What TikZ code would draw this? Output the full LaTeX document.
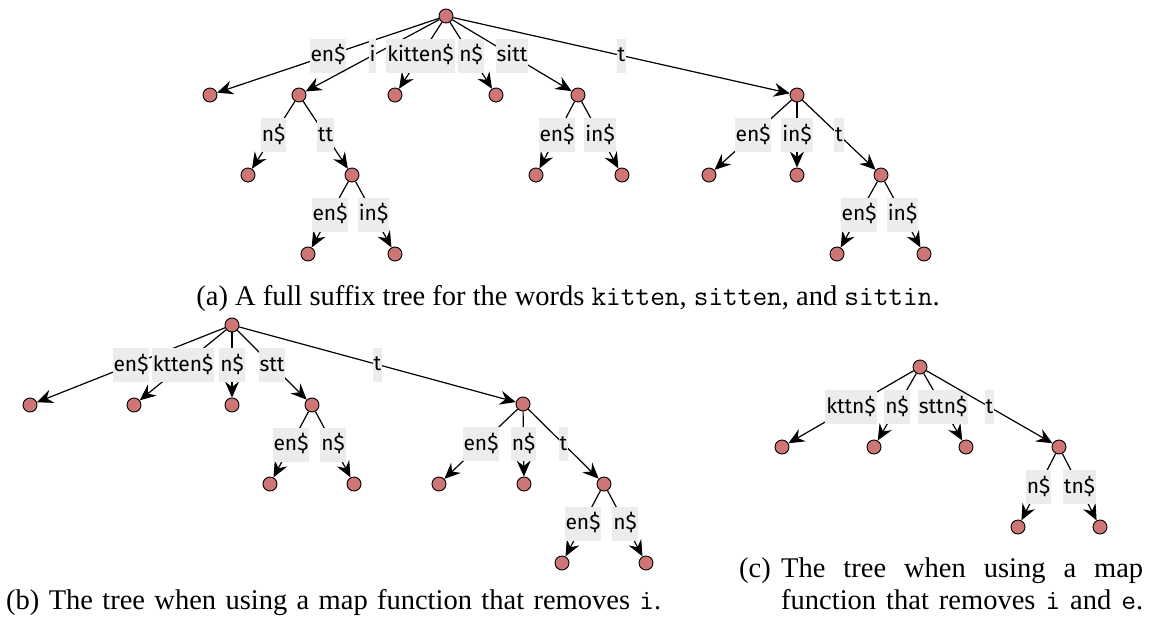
\documentclass[tikz,border=0pt]{standalone}
\usepackage{fontspec}
\setmainfont{Liberation Serif}
\newfontfamily\lblfont{Fira Sans}
\usetikzlibrary{arrows.meta}
\definecolor{vtxfill}{RGB}{206,118,118}
\definecolor{lblfill}{RGB}{236,236,236}
\tikzset{
  vtx/.style={circle, draw=black, line width=0.9pt, fill=vtxfill, minimum size=14pt, inner sep=0pt},
  lbl/.style={midway, fill=lblfill, inner xsep=1pt, inner ysep=0pt, minimum height=34pt,
              font=\lblfont\fontsize{21}{24}\selectfont, text height=15pt, text depth=3pt},
  edge/.style={line width=1.2pt, -{Stealth[length=16pt, width=14pt, inset=5.5pt]}},
  capt/.style={inner sep=0pt, font=\fontsize{28.5}{32}\selectfont}
}
\begin{document}
\begin{tikzpicture}[x=1pt, y=-1pt]
\useasboundingbox (0,0) rectangle (1149,624);

% ---- (a) full suffix tree ----
\node[vtx] (a)     at (446,16)  {};
\node[vtx] (a1)    at (210,95)  {};
\node[vtx] (ai)    at (299,95)  {};
\node[vtx] (ak)    at (395,95)  {};
\node[vtx] (an)    at (496,95)  {};
\node[vtx] (as)    at (578,95)  {};
\node[vtx] (at)    at (797,95)  {};
\node[vtx] (ain)   at (248,175) {};
\node[vtx] (aitt)  at (352,175) {};
\node[vtx] (aitte) at (308,254) {};
\node[vtx] (aitti) at (395,254) {};
\node[vtx] (ase)   at (536,175) {};
\node[vtx] (asi)   at (622,175) {};
\node[vtx] (ate)   at (709,175) {};
\node[vtx] (ati)   at (797,175) {};
\node[vtx] (att)   at (881,175) {};
\node[vtx] (atte)  at (837,254) {};
\node[vtx] (atti)  at (924,254) {};

\draw[edge] (a) -- node[lbl] {en\$} (a1);
\draw[edge] (a) -- node[lbl] {i} (ai);
\draw[edge] (a) -- node[lbl] {kitten\$} (ak);
\draw[edge] (a) -- node[lbl] {n\$} (an);
\draw[edge] (a) -- node[lbl] {sitt} (as);
\draw[edge] (a) -- node[lbl] {t} (at);
\draw[edge] (ai) -- node[lbl] {n\$} (ain);
\draw[edge] (ai) -- node[lbl] {tt} (aitt);
\draw[edge] (aitt) -- node[lbl] {en\$} (aitte);
\draw[edge] (aitt) -- node[lbl] {in\$} (aitti);
\draw[edge] (as) -- node[lbl] {en\$} (ase);
\draw[edge] (as) -- node[lbl] {in\$} (asi);
\draw[edge] (at) -- node[lbl] {en\$} (ate);
\draw[edge] (at) -- node[lbl] {in\$} (ati);
\draw[edge] (at) -- node[lbl] {t} (att);
\draw[edge] (att) -- node[lbl] {en\$} (atte);
\draw[edge] (att) -- node[lbl] {in\$} (atti);

\node[capt, anchor=base] (capa) at (568,305)
  {(a) A full suffix tree for the words \texttt{kitten}, \texttt{sitten}, and \texttt{sittin}.};

% ---- (b) map removing i ----
\node[vtx] (b)    at (232,325) {};
\node[vtx] (be)   at (30,405)  {};
\node[vtx] (bk)   at (134,405) {};
\node[vtx] (bn)   at (232,405) {};
\node[vtx] (bs)   at (312,405) {};
\node[vtx] (bt)   at (523,404) {};
\node[vtx] (bse)  at (270,484) {};
\node[vtx] (bsn)  at (354,484) {};
\node[vtx] (bte)  at (439,484) {};
\node[vtx] (btn)  at (524,484) {};
\node[vtx] (btt)  at (604,484) {};
\node[vtx] (btte) at (562,563) {};
\node[vtx] (bttn) at (646,563) {};

\draw[edge] (b) -- node[lbl] {en\$} (be);
\draw[edge] (b) -- node[lbl] {ktten\$} (bk);
\draw[edge] (b) -- node[lbl] {n\$} (bn);
\draw[edge] (b) -- node[lbl] {stt} (bs);
\draw[edge] (b) -- node[lbl] {t} (bt);
\draw[edge] (bs) -- node[lbl] {en\$} (bse);
\draw[edge] (bs) -- node[lbl] {n\$} (bsn);
\draw[edge] (bt) -- node[lbl] {en\$} (bte);
\draw[edge] (bt) -- node[lbl] {n\$} (btn);
\draw[edge] (bt) -- node[lbl] {t} (btt);
\draw[edge] (btt) -- node[lbl] {en\$} (btte);
\draw[edge] (btt) -- node[lbl] {n\$} (bttn);

\node[capt, anchor=base west] (capb) at (6,609)
  {\makebox[655pt][s]{(b) The tree when using a map function that removes \texttt{i}.}};

% ---- (c) map removing i and e ----
\node[vtx] (c)   at (920,367)  {};
\node[vtx] (ck)  at (782,447)  {};
\node[vtx] (cn)  at (874,447)  {};
\node[vtx] (cs)  at (966,447)  {};
\node[vtx] (ct)  at (1059,447) {};
\node[vtx] (ctn) at (1018,527) {};
\node[vtx] (ctt) at (1100,527) {};

\draw[edge] (c) -- node[lbl] {kttn\$} (ck);
\draw[edge] (c) -- node[lbl] {n\$} (cn);
\draw[edge] (c) -- node[lbl] {sttn\$} (cs);
\draw[edge] (c) -- node[lbl] {t} (ct);
\draw[edge] (ct) -- node[lbl] {n\$} (ctn);
\draw[edge] (ct) -- node[lbl] {tn\$} (ctt);

\node[capt, anchor=base west] (capc) at (739,577) {(c)};
\node[capt, anchor=base west] (capc1) at (781,577)
  {\makebox[362pt][s]{The tree when using a map}};
\node[capt, anchor=base west] (capc2) at (781,609)
  {\makebox[362pt][s]{function that removes \texttt{i} and \texttt{e}.}};
\end{tikzpicture}
\end{document}
